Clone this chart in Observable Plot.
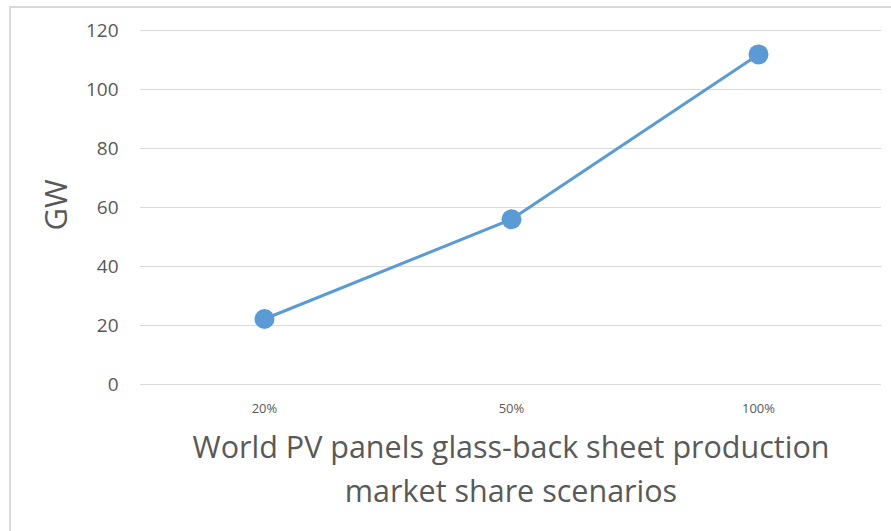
<!DOCTYPE html>
<html>
<head>
<meta charset="utf-8">
<script src="https://cdn.jsdelivr.net/npm/d3@7"></script>
<script src="https://cdn.jsdelivr.net/npm/@observablehq/plot@0.6"></script>
<style>
  html, body { margin: 0; padding: 0; background: #fff; overflow: hidden; }
  #wrap { position: relative; width: 891px; height: 531px; }
  #border { position: absolute; left: 9px; top: 6px; width: 900px; height: 600px; border: 2px solid #d9d9d9; box-sizing: border-box; }
  #chart { position: absolute; left: 0; top: 0; }
</style>
</head>
<body>
<div id="wrap"><div id="border"></div><div id="chart"></div></div>
<script>
const scenarios = ["20%", "50%", "100%"];
const gw = [22.2, 56.0, 111.9];
const yTicks = [0, 20, 40, 60, 80, 100, 120];
const xTitle = "World PV panels glass-back sheet production\nmarket share scenarios";
const yTitle = "GW";

const data = scenarios.map((s, i) => ({scenario: s, value: gw[i]}));
const font = "'Open Sans', Lato, sans-serif";
const textColor = "#595959";
const blue = "#5b9bd5";

const chart = Plot.plot({
  width: 891,
  height: 531,
  marginLeft: 140,
  marginRight: 10,
  marginTop: 30,
  marginBottom: 147,
  style: {fontFamily: font, color: textColor, background: "transparent", overflow: "visible"},
  x: {type: "point", domain: scenarios, padding: 0.5, label: null},
  y: {domain: [0, 120], ticks: yTicks, label: null},
  marks: [
    Plot.gridY(yTicks, {stroke: "#d9d9d9", strokeOpacity: 1, strokeWidth: 1}),
    Plot.axisY(yTicks, {tickSize: 0, tickPadding: 22, fontSize: 19, fill: textColor, label: null}),
    Plot.axisX({tickSize: 0, tickPadding: 19, fontSize: 13, fill: textColor, label: null}),
    Plot.line(data, {x: "scenario", y: "value", stroke: blue, strokeWidth: 3}),
    Plot.dot(data, {x: "scenario", y: "value", r: 10, fill: blue, stroke: "none"}),
    Plot.text([xTitle], {frameAnchor: "bottom", dy: 42, fontSize: 30.5, fill: textColor, lineHeight: 1.44, lineAnchor: "top", textAnchor: "middle"}),
    Plot.text([yTitle], {frameAnchor: "left", dx: -83, dy: 23, rotate: -90, fontSize: 31, fill: textColor})
  ]
});
document.getElementById("chart").appendChild(chart);
</script>
</body>
</html>
